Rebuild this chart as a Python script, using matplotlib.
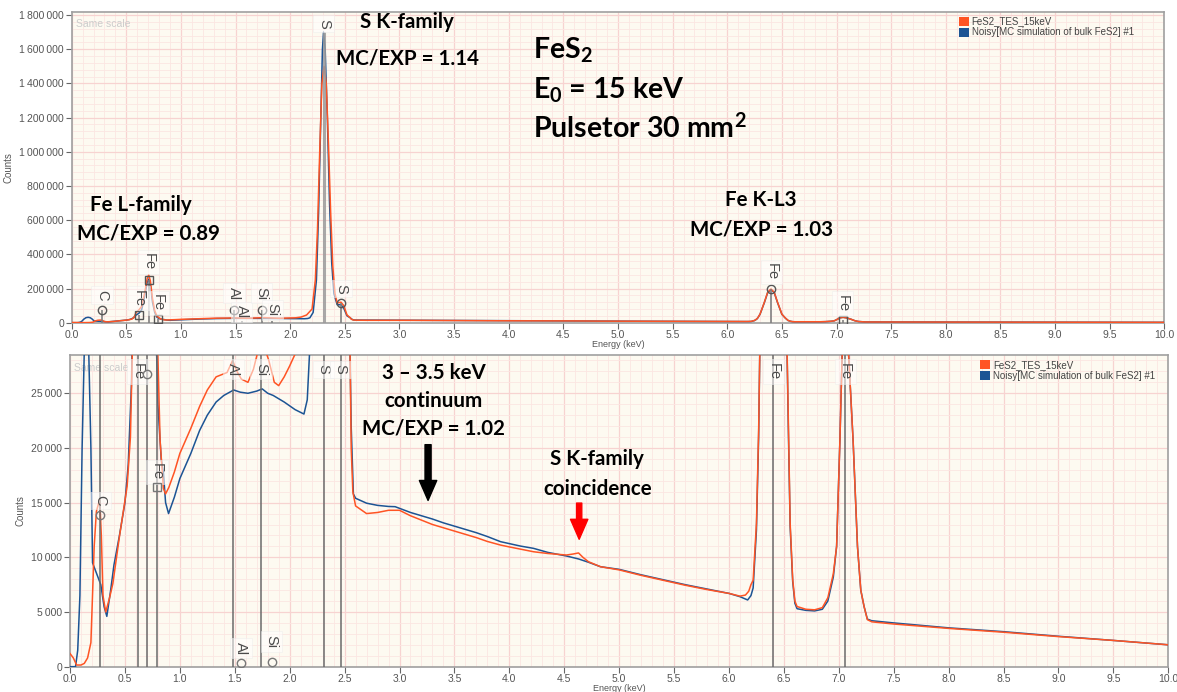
import matplotlib
matplotlib.use('Agg')
import matplotlib.pyplot as plt
from matplotlib.ticker import MultipleLocator, FuncFormatter
from matplotlib.patches import Patch

# ---------------- data ----------------
exp_energy = [0.00, 0.03, 0.06, 0.10, 0.13, 0.16, 0.19, 0.22, 0.24, 0.27, 0.285, 0.30, 0.325, 0.36, 0.39,
              0.45, 0.50, 0.52, 0.55, 0.57, 0.59, 0.615, 0.64, 0.67, 0.69, 0.705, 0.72, 0.74, 0.76, 0.78,
              0.80, 0.82, 0.85, 0.87, 0.90, 0.95, 1.00, 1.10, 1.18, 1.25, 1.33, 1.43, 1.48, 1.52, 1.56,
              1.62, 1.67, 1.71, 1.76, 1.81, 1.86, 1.90, 1.95, 2.00, 2.05, 2.10, 2.15, 2.20, 2.23, 2.25,
              2.27, 2.29, 2.31, 2.33, 2.35, 2.37, 2.39, 2.41, 2.43, 2.465, 2.49, 2.52, 2.55, 2.56, 2.575,
              2.60, 2.70, 2.80, 2.90, 3.00, 3.10, 3.20, 3.30, 3.40, 3.50, 3.60, 3.70, 3.80, 3.92, 4.00,
              4.10, 4.22, 4.35, 4.52, 4.58, 4.63, 4.67, 4.72, 4.83, 5.00, 5.20, 5.40, 5.60, 5.80, 6.00,
              6.10, 6.15, 6.18, 6.20, 6.22, 6.25, 6.27, 6.28, 6.30, 6.34, 6.37, 6.40, 6.43, 6.46, 6.50,
              6.53, 6.54, 6.557, 6.58, 6.60, 6.62, 6.70, 6.78, 6.85, 6.90, 6.95, 6.98, 7.01, 7.03, 7.06,
              7.09, 7.13, 7.17, 7.20, 7.23, 7.26, 7.30, 7.50, 8.00, 8.50, 9.00, 9.50, 10.00]
exp_counts = [1200, 800, 150, 150, 300, 800, 2200, 11000, 14200, 15300, 12000, 6500, 5000, 6300, 7600,
              11900, 15200, 16500, 21000, 30000, 60000, 75000, 95000, 180000, 255000, 280000, 245000, 140000, 70000, 38000,
              28400, 20700, 16300, 15800, 16400, 17800, 19500, 21800, 23800, 25300, 26500, 26900, 28000, 27000, 26300,
              26000, 27200, 28800, 29500, 28000, 26000, 25700, 26500, 27500, 28600, 33000, 45000, 80000, 250000, 550000,
              1000000, 1400000, 1500000, 1400000, 1050000, 650000, 330000, 170000, 115000, 120000, 100000, 45000, 28400, 20000, 16000,
              14700, 14000, 14100, 14300, 14300, 13800, 13400, 13000, 12700, 12400, 12100, 11800, 11450, 11120, 10950,
              10750, 10510, 10350, 10210, 10300, 10400, 10000, 9600, 9140, 8850, 8350, 7900, 7450, 7050, 6700,
              6450, 6550, 6900, 7500, 7900, 13100, 21600, 28400, 50000, 120000, 178000, 196000, 178000, 120000, 50000,
              28400, 22800, 13100, 8000, 6000, 5500, 5250, 5200, 5400, 6300, 8500, 11000, 20700, 28400, 31000,
              28400, 20700, 11000, 7000, 5500, 4300, 4100, 3900, 3500, 3150, 2750, 2400, 2000]

mc_energy = [0.00, 0.05, 0.07, 0.09, 0.11, 0.13, 0.15, 0.17, 0.19, 0.205, 0.25, 0.28, 0.31, 0.335, 0.37,
             0.40, 0.45, 0.50, 0.53, 0.56, 0.59, 0.615, 0.64, 0.67, 0.69, 0.705, 0.72, 0.74, 0.76, 0.78,
             0.80, 0.83, 0.85, 0.87, 0.897, 0.95, 1.00, 1.10, 1.18, 1.25, 1.33, 1.40, 1.49, 1.55, 1.62,
             1.70, 1.75, 1.80, 1.85, 1.95, 2.05, 2.13, 2.16, 2.18, 2.21, 2.24, 2.26, 2.28, 2.295, 2.305,
             2.32, 2.34, 2.36, 2.38, 2.40, 2.43, 2.465, 2.49, 2.52, 2.55, 2.56, 2.58, 2.60, 2.70, 2.80,
             2.90, 2.96, 3.10, 3.20, 3.30, 3.40, 3.50, 3.60, 3.70, 3.80, 3.92, 4.00, 4.10, 4.22, 4.35,
             4.52, 4.63, 4.72, 4.83, 5.00, 5.20, 5.40, 5.60, 5.80, 6.00, 6.10, 6.17, 6.20, 6.22, 6.25,
             6.27, 6.28, 6.30, 6.34, 6.37, 6.40, 6.43, 6.46, 6.50, 6.53, 6.54, 6.557, 6.58, 6.60, 6.62,
             6.70, 6.78, 6.85, 6.90, 6.95, 6.98, 7.01, 7.03, 7.06, 7.09, 7.13, 7.17, 7.20, 7.23, 7.26,
             7.30, 7.50, 8.00, 8.50, 9.00, 9.50, 10.00]
mc_counts = [0, 0, 1500, 6500, 20000, 29000, 31500, 29000, 20000, 9500, 8300, 7500, 5500, 4600, 7000,
             9300, 12000, 15000, 18500, 26000, 45000, 55000, 75000, 160000, 235000, 255000, 220000, 120000, 60000, 32000,
             24000, 19000, 17800, 15000, 14000, 15500, 17200, 19500, 21600, 23000, 24200, 24800, 25300, 25100, 25000,
             25200, 25400, 25000, 24800, 24200, 23500, 23100, 24400, 28500, 60000, 250000, 650000, 1200000, 1600000, 1700000,
             1600000, 1200000, 700000, 350000, 170000, 105000, 105000, 85000, 40000, 28400, 22000, 15800, 15400, 14950, 14750,
             14650, 14630, 14100, 13800, 13500, 13150, 12850, 12550, 12250, 11900, 11430, 11250, 11030, 10820, 10450,
             10120, 9850, 9550, 9140, 8900, 8400, 7950, 7500, 7100, 6700, 6400, 6100, 6500, 7200, 12500,
             21000, 28400, 49000, 118000, 176000, 193000, 176000, 118000, 49000, 28000, 22000, 12800, 7800, 5800, 5300,
             5150, 5100, 5250, 6000, 8200, 11000, 20700, 28400, 31500, 28400, 20700, 11000, 7000, 5500, 4350,
             4200, 4000, 3550, 3200, 2780, 2400, 2000]

series_names = ['FeS2_TES_15keV', 'Noisy[MC simulation of bulk FeS2] #1']
series_colors = ['#ff5424', '#1c5494']

# KLM markers, top panel
top_elem = ['C', 'Fe', 'Fe', 'Fe', 'Al', 'Al', 'Si', 'Si', 'S', 'S', 'Fe', 'Fe']
top_energy = [0.277, 0.615, 0.705, 0.792, 1.486, 1.557, 1.740, 1.836, 2.308, 2.464, 6.404, 7.058]
top_mark_y = [74000, 45000, 250000, 20000, 74000, 0, 74000, 0, 1700000, 114000, 195000, 15000]
top_label_y = [160000, 143000, 355000, 115000, 172000, 63000, 172000, 75000, 1750000, 200000, 298000, 113000]
top_shape = ['o', 's', 's', 's', 'o', '', 'o', '', '', 'o', 'o', 's']

# KLM markers, bottom panel
bot_line_energy = [0.277, 0.615, 0.705, 0.792, 1.486, 1.740, 2.308, 2.464, 6.404, 7.058]
bot_elem = ['C', 'Fe', 'Fe', 'Al', 'Si', 'S', 'S', 'Fe', 'Fe', 'Al', 'Si']
bot_label_energy = [0.277, 0.615, 0.792, 1.486, 1.740, 2.308, 2.464, 6.404, 7.058, 1.557, 1.836]
bot_label_y = [15200, 27000, 17800, 27200, 27200, 27200, 27200, 27000, 27000, 1700, 2300]
bot_mark_energy = [0.277, 0.705, 0.792, 1.557, 1.836]
bot_mark_y = [13900, 26800, 16400, 300, 450]
bot_mark_shape = ['o', 'o', 's', 'o', 'o']

# ---------------- styling ----------------
BG = '#fdfaf1'
GRID_MAJ = '#f7d3d1'
GRID_MIN = '#fbe6e2'
TXT = '#555555'
TICKFONT = ['Liberation Sans', 'DejaVu Sans']
plt.rcParams['mathtext.fontset'] = 'custom'
plt.rcParams['mathtext.rm'] = 'Lato:bold'
plt.rcParams['mathtext.it'] = 'Lato:bold'
plt.rcParams['mathtext.bf'] = 'Lato:bold'

fig = plt.figure(figsize=(11.77, 6.92), dpi=100)
ax1 = fig.add_axes([0.0609, 0.5337, 0.9283, 0.4494])
ax2 = fig.add_axes([0.0595, 0.0366, 0.9331, 0.4504])


def fmt(v, pos):
    s = f'{int(round(v)):,}'
    return s.replace(',', '\u2009')


def style(ax, ymax, ymaj, ymin):
    ax.set_facecolor(BG)
    ax.set_xlim(0, 10)
    ax.set_ylim(0, ymax)
    ax.xaxis.set_major_locator(MultipleLocator(0.5))
    ax.xaxis.set_minor_locator(MultipleLocator(0.1))
    ax.yaxis.set_major_locator(MultipleLocator(ymaj))
    ax.yaxis.set_minor_locator(MultipleLocator(ymin))
    ax.yaxis.set_major_formatter(FuncFormatter(fmt))
    ax.xaxis.set_major_formatter(FuncFormatter(lambda v, p: f'{v:.1f}'))
    ax.grid(which='major', color=GRID_MAJ, lw=0.9)
    ax.grid(which='minor', color=GRID_MIN, lw=0.6)
    ax.set_axisbelow(True)
    for s in ax.spines.values():
        s.set_color('#a0a0a0')
        s.set_linewidth(1.2)
    ax.tick_params(which='major', length=4, color='#666666', labelcolor=TXT, labelsize=7.5, pad=1.5)
    ax.tick_params(which='minor', length=0)
    for lab in ax.get_xticklabels() + ax.get_yticklabels():
        lab.set_family(TICKFONT)
    ax.set_xlabel('Energy (keV)', fontsize=6.5, color=TXT, family=TICKFONT, labelpad=-0.5)
    ax.set_ylabel('Counts', fontsize=7, color=TXT, family=TICKFONT, labelpad=4)
    ax.text(0.004, 0.975, 'Same scale', transform=ax.transAxes, fontsize=7.5, color='#cccccc',
            family=TICKFONT, ha='left', va='top')


style(ax1, 1820000, 200000, 40000)
style(ax2, 28500, 5000, 1000)

lab_box = dict(boxstyle='square,pad=0.25', fc='white', ec='#ececec', lw=0.6, alpha=0.55)

for ax in (ax1, ax2):
    ax.plot(mc_energy, mc_counts, color=series_colors[1], lw=1.1, zorder=3)
    ax.plot(exp_energy, exp_counts, color=series_colors[0], lw=1.1, zorder=4)

# top panel markers
for el, e, my, ly, sh in zip(top_elem, top_energy, top_mark_y, top_label_y, top_shape):
    lw = 2.2 if el == 'S' and my > 1000000 else 1.4
    col = '#9a9a9a' if lw > 2 else '#808080'
    if my > 0:
        ax1.vlines(e, 0, my, color=col, lw=lw, zorder=5, alpha=0.85)
    else:
        ax1.vlines(e, 0, 8000, color='#808080', lw=1.2, zorder=5)
    if sh:
        ax1.plot([e], [my], marker=sh, ms=6 if sh == 'o' else 5.5, mfc='none', mec='#555555', mew=1.0, zorder=6)
    ax1.text(e, ly, el, rotation=270, ha='center', va='center', fontsize=10.5, color='#4a4a4a',
             family=TICKFONT, bbox=lab_box, zorder=6)

# bottom panel markers
for e in bot_line_energy:
    ax2.axvline(e, color='#6a6a6a', lw=1.1, zorder=5)
for el, e, ly in zip(bot_elem, bot_label_energy, bot_label_y):
    ax2.text(e, ly, el, rotation=270, ha='center', va='center', fontsize=10.5, color='#4a4a4a',
             family=TICKFONT, bbox=lab_box, zorder=6)
for e, my, sh in zip(bot_mark_energy, bot_mark_y, bot_mark_shape):
    ax2.plot([e], [my], marker=sh, ms=6 if sh == 'o' else 5.5, mfc='none', mec='#777777', mew=1.0, zorder=6)

# legends
handles = [Patch(facecolor=c, edgecolor='none') for c in series_colors]
for ax, loc in ((ax1, (0.812, 0.985)), (ax2, (0.829, 0.985))):
    ax.legend(handles, series_names, loc='upper left', bbox_to_anchor=loc, frameon=False,
              prop={'family': TICKFONT, 'size': 7}, labelcolor='#444444', handlelength=1.0,
              handleheight=1.05, handletextpad=0.3, labelspacing=0.1, borderaxespad=0, borderpad=0)

# annotations
ANN = dict(family='Lato', weight='bold', color='black', ha='center', va='center', zorder=10)
FS = 14.8
ax1.text(3.07, 1758000, 'S K-family', fontsize=FS, **ANN)
ax1.text(3.07, 1548000, 'MC/EXP = 1.14', fontsize=FS, **ANN)
ax1.text(0.634, 688000, 'Fe L-family', fontsize=FS, **ANN)
ax1.text(0.70, 524000, 'MC/EXP = 0.89', fontsize=FS, **ANN)
ax1.text(6.31, 716000, 'Fe K-L3', fontsize=FS, **ANN)
ax1.text(6.31, 548000, 'MC/EXP = 1.03', fontsize=FS, **ANN)
BIG = dict(family='Lato', weight='bold', color='black', ha='left', va='center', fontsize=20.5, zorder=10)
ax1.text(4.22, 1594000, 'FeS$_2$', **BIG)
ax1.text(4.22, 1361000, 'E$_0$ = 15 keV', **BIG)
ax1.text(4.22, 1139000, 'Pulsetor 30 mm$^2$', **BIG)

ax2.text(3.31, 26850, '3 \u2013 3.5 keV', fontsize=FS, **ANN)
ax2.text(3.31, 24300, 'continuum', fontsize=FS, **ANN)
ax2.text(3.31, 21800, 'MC/EXP = 1.02', fontsize=FS, **ANN)
ax2.text(4.80, 19000, 'S K-family', fontsize=FS, **ANN)
ax2.text(4.80, 16250, 'coincidence', fontsize=FS, **ANN)

ax2.annotate('', xy=(3.26, 15200), xytext=(3.26, 20300),
             arrowprops=dict(arrowstyle='simple,head_length=1.15,head_width=1.0,tail_width=0.35',
                             color='black', shrinkA=0, shrinkB=0, mutation_scale=12.5), zorder=10)
ax2.annotate('', xy=(4.636, 11650), xytext=(4.636, 14960),
             arrowprops=dict(arrowstyle='simple,head_length=1.15,head_width=1.0,tail_width=0.3',
                             color='#ff0000', shrinkA=0, shrinkB=0, mutation_scale=12.5), zorder=10)

fig.savefig('out.png', dpi=100)
